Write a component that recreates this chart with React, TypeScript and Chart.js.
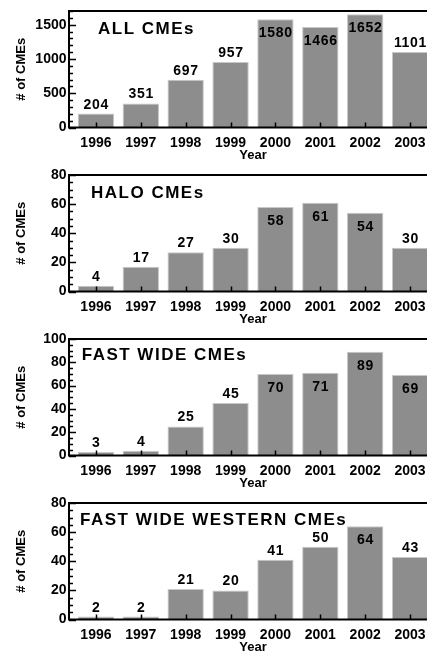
import React, { useEffect, useRef } from "react";
import { Chart, registerables } from "chart.js";

Chart.register(...registerables);

// ---- data ----
const years = [1996, 1997, 1998, 1999, 2000, 2001, 2002, 2003];
const allCmes = [204, 351, 697, 957, 1580, 1466, 1652, 1101];
const haloCmes = [4, 17, 27, 30, 58, 61, 54, 30];
const fastWideCmes = [3, 4, 25, 45, 70, 71, 89, 69];
const fastWideWesternCmes = [2, 2, 21, 20, 41, 50, 64, 43];

const allTicks = [0, 500, 1000, 1500];
const haloTicks = [0, 20, 40, 60, 80];
const fastWideTicks = [0, 20, 40, 60, 80, 100];
const westernTicks = [0, 20, 40, 60, 80];

const FONT = "'Liberation Sans', Arial, Helvetica, sans-serif";
const CANVAS_W = 440;
const CANVAS_H = 164;

type PanelCfg = {
  title: string;
  values: number[];
  ticks: number[];
  max: number;
  minor: number;
  titleDx: number;
  titleDy: number;
};

const panels: PanelCfg[] = [
  { title: "ALL CMEs", values: allCmes, ticks: allTicks, max: 1700, minor: 100, titleDx: 29, titleDy: 23.3 },
  { title: "HALO CMEs", values: haloCmes, ticks: haloTicks, max: 80, minor: 5, titleDx: 22, titleDy: 22.7 },
  { title: "FAST WIDE CMEs", values: fastWideCmes, ticks: fastWideTicks, max: 100, minor: 5, titleDx: 12.7, titleDy: 21 },
  { title: "FAST WIDE WESTERN CMEs", values: fastWideWesternCmes, ticks: westernTicks, max: 80, minor: 5, titleDx: 11, titleDy: 22 },
];

function makeDecor(p: PanelCfg) {
  return {
    id: "panelDecor",
    afterDatasetsDraw(chart: any) {
      const { ctx, chartArea: a, scales } = chart;
      const x = scales.x;
      const y = scales.y;
      ctx.save();
      // value labels
      ctx.font = `bold 14px ${FONT}`;
      (ctx as any).letterSpacing = "0.7px";
      ctx.fillStyle = "#000";
      ctx.textAlign = "center";
      ctx.textBaseline = "alphabetic";
      const meta = chart.getDatasetMeta(0);
      meta.data.forEach((bar: any, i: number) => {
        const v = p.values[i];
        const inside = v / p.max > 0.66;
        const yb = inside ? bar.y + 18 : bar.y - 5;
        ctx.fillText(String(v), bar.x + 0.4, yb);
      });
      // inward ticks
      ctx.strokeStyle = "#000";
      ctx.lineWidth = 1.5;
      ctx.beginPath();
      for (let v = 0; v <= p.max + 1e-9; v += p.minor) {
        const py = Math.round(y.getPixelForValue(v)) + 0.5;
        const major = p.ticks.includes(v);
        ctx.moveTo(a.left, py);
        ctx.lineTo(a.left + (major ? 7 : 4), py);
      }
      years.forEach((yr) => {
        const px = Math.round(x.getPixelForValue(yr)) + 0.5;
        ctx.moveTo(px, a.bottom);
        ctx.lineTo(px, a.bottom - 5);
      });
      ctx.stroke();
      // frame
      ctx.lineWidth = 2;
      ctx.beginPath();
      ctx.moveTo(a.left, a.top);
      ctx.lineTo(a.right, a.top);
      ctx.lineTo(a.right, a.bottom);
      ctx.lineTo(a.left, a.bottom);
      ctx.closePath();
      ctx.stroke();
      // panel title
      ctx.font = `bold 17px ${FONT}`;
      (ctx as any).letterSpacing = "1.5px";
      ctx.textAlign = "left";
      ctx.fillText(p.title, a.left + p.titleDx, a.top + p.titleDy);
      ctx.restore();
    },
  };
}

function Panel({ cfg }: { cfg: PanelCfg }) {
  const ref = useRef<HTMLCanvasElement | null>(null);
  useEffect(() => {
    if (!ref.current) return;
    const chart = new Chart(ref.current, {
      type: "bar",
      data: {
        datasets: [
          {
            data: years.map((yr, i) => ({ x: yr, y: cfg.values[i] })),
            backgroundColor: "#8d8d8d",
            borderColor: "#c8c8c8",
            borderWidth: 1,
            barPercentage: 0.81,
            categoryPercentage: 1,
          },
        ],
      },
      plugins: [makeDecor(cfg)],
      options: {
        responsive: false,
        animation: false,
        devicePixelRatio: 1,
        layout: { padding: { top: 11, right: 3, left: 0, bottom: 0 } },
        plugins: { legend: { display: false }, tooltip: { enabled: false }, title: { display: false } },
        scales: {
          x: {
            type: "linear",
            offset: false,
            min: 1995.4,
            max: 2003.6,
            afterBuildTicks: (s: any) => {
              s.ticks = years.map((v) => ({ value: v }));
            },
            afterFit: (s: any) => {
              s.height = 36.5;
            },
            grid: { display: false, drawTicks: false, offset: false },
            border: { display: false },
            ticks: {
              autoSkip: false,
              maxRotation: 0,
              padding: 7,
              color: "#000",
              font: { family: FONT, size: 14, weight: "bold" },
              callback: (v: any) => String(v),
            },
            title: {
              display: true,
              text: "Year",
              color: "#000",
              font: { family: FONT, size: 13, weight: "bold" },
              padding: { top: 0, bottom: 0.7 },
            },
          },
          y: {
            type: "linear",
            min: 0,
            max: cfg.max,
            afterBuildTicks: (s: any) => {
              s.ticks = cfg.ticks.map((v) => ({ value: v }));
            },
            afterFit: (s: any) => {
              s.width = 69;
            },
            grid: { display: false, drawTicks: false },
            border: { display: false },
            ticks: {
              padding: 2.5,
              color: "#000",
              font: { family: FONT, size: 14, weight: "bold" },
              callback: (v: any) => String(v),
            },
            title: {
              display: true,
              text: "# of CMEs",
              color: "#000",
              font: { family: FONT, size: 13, weight: "bold" },
              padding: { top: 14, bottom: 0 },
            },
          },
        },
      } as any,
    });
    return () => chart.destroy();
  }, [cfg]);
  return <canvas ref={ref} width={CANVAS_W} height={CANVAS_H} style={{ display: "block", width: CANVAS_W, height: CANVAS_H }} />;
}

export default function App() {
  return (
    <div
      style={{
        position: "absolute",
        left: 0,
        top: 0,
        width: 427,
        height: 652,
        overflow: "hidden",
        background: "#fff",
      }}
    >
      {panels.map((p) => (
        <Panel key={p.title} cfg={p} />
      ))}
    </div>
  );
}
